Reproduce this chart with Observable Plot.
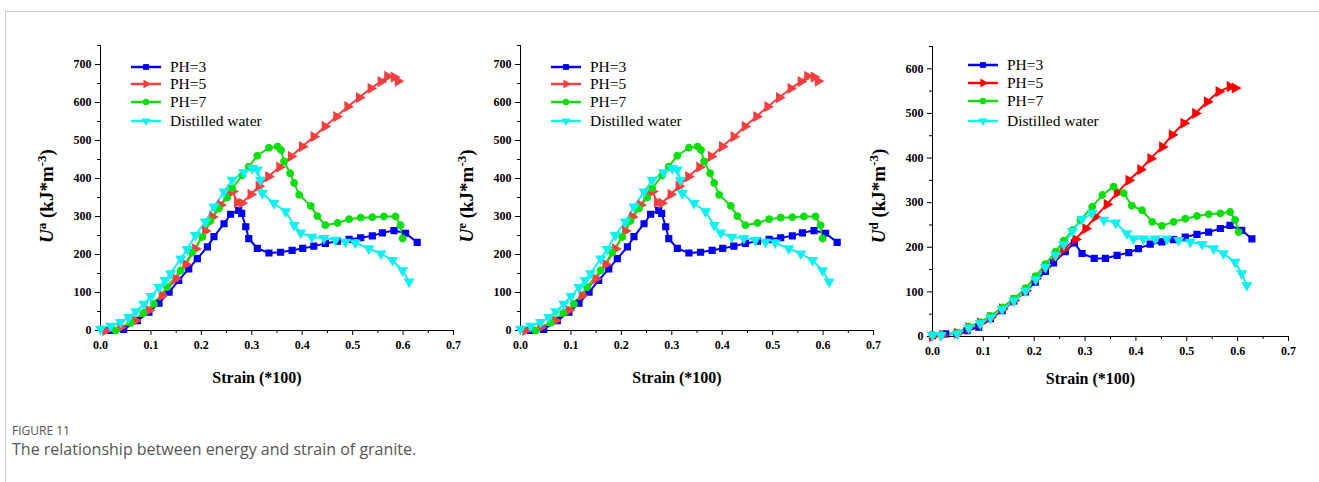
<!DOCTYPE html>
<html><head><meta charset="utf-8">
<script src="https://cdn.jsdelivr.net/npm/d3@7"></script>
<script src="https://cdn.jsdelivr.net/npm/@observablehq/plot@0.6"></script>
<style>
body{margin:0;background:#fff;width:1319px;height:482px;overflow:hidden;position:relative;font-family:"Open Sans",sans-serif}
#frame{position:absolute;left:5px;top:11px;width:1330px;height:490px;border-top:1px solid #c8c8c8;border-left:1px solid #c8c8c8}
.panel{position:absolute;top:40px}
#cap1{position:absolute;left:12px;top:424px;font-size:12px;line-height:14px;color:#555}
#cap2{position:absolute;left:12px;top:439px;font-size:16px;line-height:20px;color:#555}
</style></head><body>
<div id="frame"></div>
<div id="p1" class="panel" style="left:40px"></div>
<div id="p2" class="panel" style="left:460px"></div>
<div id="p3" class="panel" style="left:872px"></div>
<div id="cap1">FIGURE 11</div>
<div id="cap2">The relationship between energy and strain of granite.</div>
<script>
// ---- series names and tick values ----
const seriesNames = ["PH=3", "PH=5", "PH=7", "Distilled water"];
const xMajorTicks = [0, 0.1, 0.2, 0.3, 0.4, 0.5, 0.6, 0.7];
const xMinorTicks = [0.05, 0.15, 0.25, 0.35, 0.45, 0.55, 0.65];
const yMajorTicksA = [0, 100, 200, 300, 400, 500, 600, 700];
const yMinorTicksA = [50, 150, 250, 350, 450, 550, 650, 750];
const yMajorTicksD = [0, 100, 200, 300, 400, 500, 600];
const yMinorTicksD = [50, 150, 250, 350, 450, 550, 650];

// ---- U^a / U^e panels (strain, energy) ----
const aPH3 = [[0.02,0],[0.046,3],[0.073,26],[0.096,48],[0.116,72],[0.136,101],[0.155,132],[0.175,162],[0.192,189],[0.212,220],[0.225,247],[0.245,281],[0.258,306],[0.274,316],[0.28,308],[0.288,273],[0.294,242],[0.311,216],[0.334,204],[0.357,206],[0.38,211],[0.401,216],[0.423,222],[0.446,229],[0.47,235],[0.493,240],[0.516,244],[0.539,249],[0.559,257],[0.582,263],[0.605,256],[0.628,232]];
const aPH5 = [[0.01,0],[0.04,8],[0.069,26],[0.096,53],[0.122,92],[0.149,136],[0.169,174],[0.188,215],[0.208,262],[0.222,299],[0.238,330],[0.255,361],[0.262,366],[0.271,337],[0.28,335],[0.298,358],[0.314,380],[0.333,405],[0.355,430],[0.378,458],[0.4,484],[0.423,510],[0.445,537],[0.468,563],[0.49,589],[0.513,613],[0.536,637],[0.556,655],[0.569,669],[0.582,667],[0.59,656]];
const aPH7 = [[0.03,0],[0.06,20],[0.085,46],[0.106,70],[0.132,114],[0.159,158],[0.182,205],[0.202,246],[0.218,288],[0.235,321],[0.251,350],[0.261,374],[0.281,408],[0.294,431],[0.311,460],[0.334,481],[0.351,484],[0.358,475],[0.364,445],[0.376,414],[0.384,388],[0.394,357],[0.417,328],[0.43,301],[0.446,277],[0.47,283],[0.493,293],[0.516,297],[0.539,298],[0.562,300],[0.585,300],[0.595,277],[0.599,242]];
const aDW = [[0,4],[0.02,12],[0.04,22],[0.056,35],[0.07,50],[0.086,70],[0.1,90],[0.116,114],[0.128,132],[0.139,150],[0.159,189],[0.172,214],[0.188,251],[0.208,286],[0.225,326],[0.245,365],[0.261,396],[0.284,416],[0.301,427],[0.311,423],[0.317,396],[0.321,361],[0.344,335],[0.367,313],[0.384,277],[0.397,257],[0.419,246],[0.443,243],[0.466,238],[0.486,233],[0.505,231],[0.532,216],[0.556,202],[0.579,185],[0.599,158],[0.612,128]];

// ---- U^d panel ----
const dPH3 = [[0,2],[0.026,6],[0.048,7],[0.068,13],[0.091,21],[0.114,40],[0.137,58],[0.16,80],[0.183,100],[0.202,122],[0.222,146],[0.238,165],[0.261,190],[0.279,210],[0.294,186],[0.318,175],[0.34,175],[0.363,182],[0.386,188],[0.405,197],[0.428,207],[0.451,212],[0.474,217],[0.497,223],[0.52,229],[0.543,234],[0.566,242],[0.585,249],[0.608,238],[0.628,219]];
const dPH5 = [[0,0],[0.02,3],[0.049,7],[0.071,20],[0.094,30],[0.114,43],[0.137,62],[0.16,81],[0.183,103],[0.203,130],[0.222,156],[0.242,180],[0.258,196],[0.281,218],[0.301,242],[0.32,268],[0.343,296],[0.363,322],[0.386,350],[0.409,374],[0.429,399],[0.452,425],[0.471,452],[0.494,478],[0.517,500],[0.54,526],[0.563,549],[0.585,560],[0.595,557]];
const dPH7 = [[0,4],[0.017,4],[0.049,8],[0.071,22],[0.094,32],[0.114,46],[0.137,65],[0.16,85],[0.183,108],[0.203,135],[0.222,162],[0.242,190],[0.258,215],[0.275,238],[0.291,261],[0.314,291],[0.334,317],[0.356,336],[0.376,321],[0.392,293],[0.412,283],[0.432,257],[0.451,248],[0.474,257],[0.497,264],[0.52,270],[0.543,274],[0.566,276],[0.585,279],[0.595,261],[0.602,234]];
const dDW = [[0,3],[0.017,3],[0.049,6],[0.071,19],[0.094,29],[0.114,42],[0.137,61],[0.16,80],[0.183,102],[0.203,128],[0.222,155],[0.242,182],[0.258,206],[0.275,236],[0.294,263],[0.314,276],[0.337,261],[0.36,255],[0.382,231],[0.395,219],[0.415,219],[0.438,219],[0.461,219],[0.484,216],[0.507,212],[0.53,207],[0.553,197],[0.572,186],[0.595,167],[0.608,141],[0.618,115]];

const symbols = ["square", "triangle", "circle", "triangle"];
const rotations = [0, 90, 0, 180];
const d3Symbols = [d3.symbolSquare, d3.symbolTriangle, d3.symbolCircle, d3.symbolTriangle];
const serif = '"Liberation Serif","Times New Roman",serif';

function makePanel(el, cfg) {
  const rows = [];
  cfg.data.forEach((arr, i) => arr.forEach(([s, v]) => rows.push({series: seriesNames[i], s, v, rot: rotations[i]})));
  const svg = Plot.plot({
    width: cfg.width, height: 360,
    marginLeft: 60, marginRight: 7, marginTop: cfg.mt, marginBottom: cfg.mb,
    style: {fontFamily: serif, fontSize: "12px", fontWeight: "bold", color: "#000", background: "transparent", overflow: "visible"},
    x: {domain: [0, 0.7]},
    y: {domain: [0, cfg.ymax]},
    color: {domain: seriesNames, range: cfg.colors},
    symbol: {domain: seriesNames, range: symbols},
    marks: [
      Plot.axisX({ticks: xMajorTicks, tickSize: 5, tickPadding: 5, tickFormat: d3.format(".1f"), label: null}),
      Plot.axisX({ticks: xMinorTicks, tickSize: 3, tickFormat: () => "", label: null}),
      Plot.axisY({ticks: cfg.yMajor, tickSize: 5, tickPadding: 4, tickFormat: d3.format("d"), label: null}),
      Plot.axisY({ticks: cfg.yMinor, tickSize: 3, tickFormat: () => "", label: null}),
      Plot.ruleX([0], {stroke: "#000"}),
      Plot.ruleY([0], {stroke: "#000"}),
      Plot.line(rows, {x: "s", y: "v", z: "series", stroke: "series", strokeWidth: 2}),
      Plot.dot(rows, {x: "s", y: "v", fill: "series", stroke: "series", symbol: "series", r: 3.2, rotate: "rot"}),
      Plot.text(["Strain (*100)"], {text: d => d, frameAnchor: "bottom", dy: cfg.xlabDy, dx: -20, fontSize: 16, fontWeight: "bold"})
    ]
  });
  const root = d3.select(svg);
  // y label with superscripts
  const yl = root.append("text")
    .attr("transform", `translate(13,${cfg.ylabY}) rotate(-90)`)
    .attr("text-anchor", "middle").style("font-size", "19px").attr("font-weight", "bold")
    .attr("font-family", serif).attr("fill", "#000");
  yl.append("tspan").attr("font-style", "italic").text("U");
  yl.append("tspan").style("font-size", "13px").attr("dy", -7).text(cfg.sup);
  yl.append("tspan").attr("dy", 7).text(" (kJ*m");
  yl.append("tspan").style("font-size", "13px").attr("dy", -7).text("-3");
  yl.append("tspan").attr("dy", 7).text(")");
  // legend
  const lg = root.append("g").attr("font-family", serif).style("font-size", "15.5px").attr("font-weight", "normal").attr("text-anchor", "start");
  seriesNames.forEach((name, i) => {
    const y = cfg.legY[i];
    const g = lg.append("g").attr("transform", `translate(0,${y})`);
    g.append("line").attr("x1", cfg.legX).attr("x2", cfg.legX + 30).attr("stroke", cfg.colors[i]).attr("stroke-width", 2.5);
    g.append("path").attr("d", d3.symbol(d3Symbols[i], 34)())
      .attr("transform", `translate(${cfg.legX + 15},0) rotate(${rotations[i]})`).attr("fill", cfg.colors[i]);
    g.append("text").attr("x", cfg.legX + 39).attr("dy", "0.35em").attr("fill", "#000").attr("text-anchor", "start").text(name);
  });
  document.getElementById(el).appendChild(svg);
}

const colorsA = ["#0000ee", "#f24040", "#10dd10", "#10f0f0"];
const colorsD = ["#0000ee", "#ff0000", "#10dd10", "#10f0f0"];

makePanel("p1", {width: 420, mt: 5, mb: 70, ymax: 750, yMajor: yMajorTicksA, yMinor: yMinorTicksA, colors: colorsA, data: [aPH3, aPH5, aPH7, aDW], sup: "a", ylabY: 156, legX: 91, legY: [27, 44, 62, 81], xlabDy: 52});
makePanel("p2", {width: 420, mt: 5, mb: 70, ymax: 750, yMajor: yMajorTicksA, yMinor: yMinorTicksA, colors: colorsA, data: [aPH3, aPH5, aPH7, aDW], sup: "e", ylabY: 156, legX: 91, legY: [27, 44, 62, 81], xlabDy: 52});
makePanel("p3", {width: 423, mt: 6, mb: 64, ymax: 650, yMajor: yMajorTicksD, yMinor: yMinorTicksD, colors: colorsD, data: [dPH3, dPH5, dPH7, dDW], sup: "d", ylabY: 156, legX: 96, legY: [25, 43, 61, 81], xlabDy: 47});
</script>
</body></html>
